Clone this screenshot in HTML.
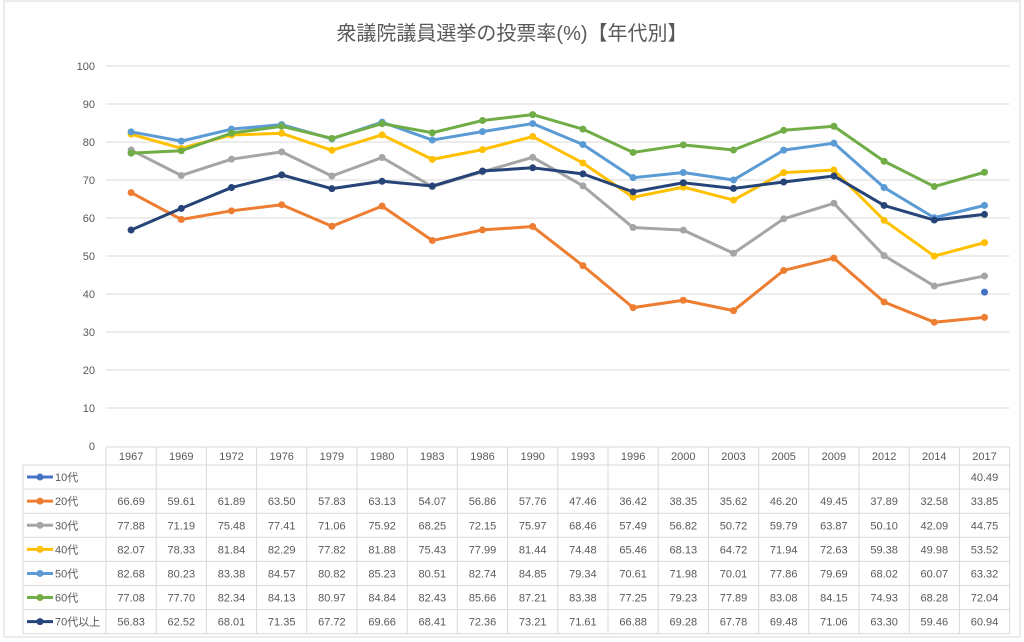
<!DOCTYPE html>
<html><head><meta charset="utf-8"><style>
body{margin:0;background:#fff;}
svg{display:block;font-family:"Liberation Sans","Noto Sans CJK JP",sans-serif;}
</style></head><body>
<svg id="c" width="1024" height="642">
<rect x="4" y="1" width="1016" height="636" fill="#fff" stroke="#d9d9d9"/>
<text x="512" y="40" text-anchor="middle" font-size="20" fill="#595959">衆議院議員選挙の投票率(%)【年代別】</text>
<g id="grid"></g><g id="tbl"></g><g id="lines"></g>
</svg>
<script>
const years=["1967","1969","1972","1976","1979","1980","1983","1986","1990","1993","1996","2000","2003","2005","2009","2012","2014","2017"];
const names=["10代","20代","30代","40代","50代","60代","70代以上"];
const colors=["#4472c4","#ed7d31","#a5a5a5","#ffc000","#5b9bd5","#70ad47","#264478"];
const s10=[null,null,null,null,null,null,null,null,null,null,null,null,null,null,null,null,null,40.49];
const s20=[66.69,59.61,61.89,63.50,57.83,63.13,54.07,56.86,57.76,47.46,36.42,38.35,35.62,46.20,49.45,37.89,32.58,33.85];
const s30=[77.88,71.19,75.48,77.41,71.06,75.92,68.25,72.15,75.97,68.46,57.49,56.82,50.72,59.79,63.87,50.10,42.09,44.75];
const s40=[82.07,78.33,81.84,82.29,77.82,81.88,75.43,77.99,81.44,74.48,65.46,68.13,64.72,71.94,72.63,59.38,49.98,53.52];
const s50=[82.68,80.23,83.38,84.57,80.82,85.23,80.51,82.74,84.85,79.34,70.61,71.98,70.01,77.86,79.69,68.02,60.07,63.32];
const s60=[77.08,77.70,82.34,84.13,80.97,84.84,82.43,85.66,87.21,83.38,77.25,79.23,77.89,83.08,84.15,74.93,68.28,72.04];
const s70=[56.83,62.52,68.01,71.35,67.72,69.66,68.41,72.36,73.21,71.61,66.88,69.28,67.78,69.48,71.06,63.30,59.46,60.94];
const series=[s10,s20,s30,s40,s50,s60,s70];
const yTicks=[0,10,20,30,40,50,60,70,80,90,100];
const NS="http://www.w3.org/2000/svg";
const X0=106,CW=50.2,Y0=446,YS=3.8,TL=23,HY=447,HH=18,RH=24.1;
const x=i=>X0+CW*(i+0.5), y=v=>Y0-v*YS;
function mk(t,a,p,txt){const e=document.createElementNS(NS,t);for(const k in a)e.setAttribute(k,a[k]);if(txt!=null)e.textContent=txt;p.appendChild(e);return e;}
const grid=document.getElementById('grid'),tbl=document.getElementById('tbl'),lines=document.getElementById('lines');
const R=X0+CW*years.length;
yTicks.forEach(v=>{
  if(v>0){const l=mk('line',{x1:X0,x2:R,y1:y(v),y2:y(v),stroke:'#d9d9d9'},grid);
  
  }
  const t=mk('text',{x:95,y:y(v)+4,'text-anchor':'end','font-size':11,fill:'#595959'},grid,String(v));
  
  
});
// table grid
const TB=HY+HH+RH*names.length;
mk('line',{x1:X0,x2:R,y1:HY,y2:HY,stroke:'#d9d9d9'},tbl);
for(let r=0;r<=names.length;r++){mk('line',{x1:TL,x2:R,y1:HY+HH+RH*r,y2:HY+HH+RH*r,stroke:'#d9d9d9'},tbl);}
mk('line',{x1:TL,x2:TL,y1:HY+HH,y2:TB,stroke:'#d9d9d9'},tbl);
for(let c=0;c<=years.length;c++){mk('line',{x1:X0+CW*c,x2:X0+CW*c,y1:HY,y2:TB,stroke:'#d9d9d9'},tbl);}
years.forEach((yr,i)=>{const t=mk('text',{x:x(i),y:HY+13,'text-anchor':'middle','font-size':11,fill:'#595959'},tbl,yr);
  
  });
series.forEach((s,k)=>{
  const cy=HY+HH+RH*k+RH/2;
  mk('line',{x1:27,x2:53,y1:cy,y2:cy,stroke:colors[k],'stroke-width':3},tbl);
  mk('circle',{cx:40,cy:cy,r:3.5,fill:colors[k]},tbl);
  const lt=mk('text',{x:55,y:cy+4,'font-size':11,fill:'#595959'},tbl,names[k]);
  
  
  s.forEach((v,i)=>{if(v==null)return;
    const t=mk('text',{x:x(i),y:cy+4,'text-anchor':'middle','font-size':11,fill:'#595959'},tbl,v.toFixed(2));
    
    });
  let d='';s.forEach((v,i)=>{if(v==null)return;d+=(d?'L':'M')+x(i)+','+y(v);});
  const p=mk('path',{d:d,fill:'none',stroke:colors[k],'stroke-width':3,'stroke-linejoin':'round'},lines);
  
  
  s.forEach((v,i)=>{if(v==null)return;const c=mk('circle',{cx:x(i),cy:y(v),r:3.5,fill:colors[k]},lines);
    
    });
});
</script>
</body></html>
